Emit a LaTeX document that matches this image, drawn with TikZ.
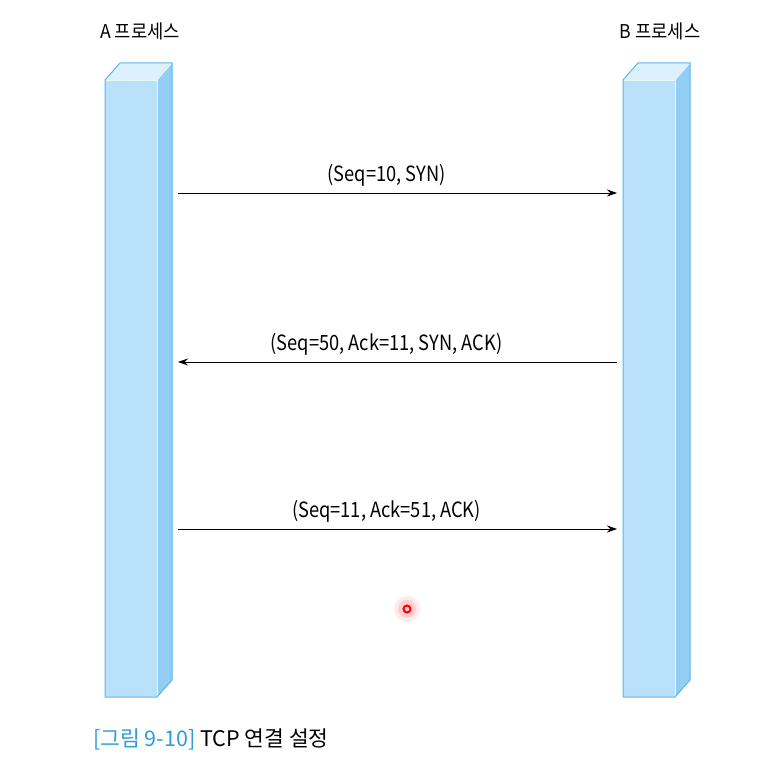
\documentclass[tikz,border=0pt]{standalone}
\usepackage{fontspec}
\setmainfont{Noto Sans CJK KR}
\usetikzlibrary{arrows.meta}
\definecolor{barfront}{HTML}{B9E1FA}
\definecolor{bartop}{HTML}{DDF1FD}
\definecolor{barside}{HTML}{92CEF3}
\definecolor{barline}{HTML}{5DB5E6}
\definecolor{capblue}{HTML}{2B9ED8}
\tikzset{
  barline/.style={draw=barline, line width=1pt, line join=round},
  baredge/.style={draw=white!70!barfront, line width=0.8pt},
  msg/.style={-{Stealth[length=10pt,width=7pt]}, line width=0.7pt},
  msglabel/.style={above, xshift=-11pt, inner sep=6pt, font=\fontsize{21}{24}\selectfont\addfontfeature{FakeStretch=0.87}},
  proclabel/.style={font=\fontsize{19}{22}\selectfont\addfontfeature{FakeStretch=0.93}}
}
\begin{document}
\begin{tikzpicture}[x=1pt,y=-1pt]
  \useasboundingbox (0,0) rectangle (769,759);
  \fill[white] (0,0) rectangle (769,759);

  % Process bars
  \foreach \bx in {105,623} {
    \fill[barfront] (\bx,80) rectangle ++(52,617);
    \fill[bartop] (\bx,80) -- ++(15,-17) -- ++(52,0) -- ++(-15,17) -- cycle;
    \fill[barside] (\bx+52,80) -- ++(15,-17) -- ++(0,617) -- ++(-15,17) -- cycle;
    % inner edges
    \draw[baredge] (\bx+1,80) -- ++(51,0) -- ++(0,616);
    \draw[baredge] (\bx+52,80) -- ++(14,-16);
    % outline
    \draw[barline] (\bx,697) -- (\bx,80) -- ++(15,-17) -- ++(52,0) -- ++(0,617) -- ++(-15,17) -- cycle;
  }
  \node[proclabel] (labA) at (140,31) {A 프로세스};
  \node[proclabel] (labB) at (660,31) {B 프로세스};

  % Message end points
  \coordinate (a1) at (178,193);
  \coordinate (b1) at (617,193);
  \coordinate (a2) at (178,362);
  \coordinate (b2) at (617,362);
  \coordinate (a3) at (178,529);
  \coordinate (b3) at (617,529);

  % Handshake
  \draw[msg] (a1) -- node[msglabel] (syn) {(Seq=10, SYN)} (b1);
  \draw[msg] (b2) -- node[msglabel] (synack) {(Seq=50, Ack=11, SYN, ACK)} (a2);
  \draw[msg] (a3) -- node[msglabel] (ack) {(Seq=11, Ack=51, ACK)} (b3);

  % Pointer dot
  \fill[red, opacity=0.08] (407,609) circle (13);
  \fill[red, opacity=0.12] (407,609) circle (9);
  \draw[red, line width=2pt] (407,609) circle (3.5);

  % Caption
  \node[anchor=west, inner sep=0pt, font=\fontsize{21.5}{25}\selectfont] (caption) at (93,739)
    {\textcolor{capblue}{[그림 9-10]} TCP 연결 설정};
\end{tikzpicture}
\end{document}
